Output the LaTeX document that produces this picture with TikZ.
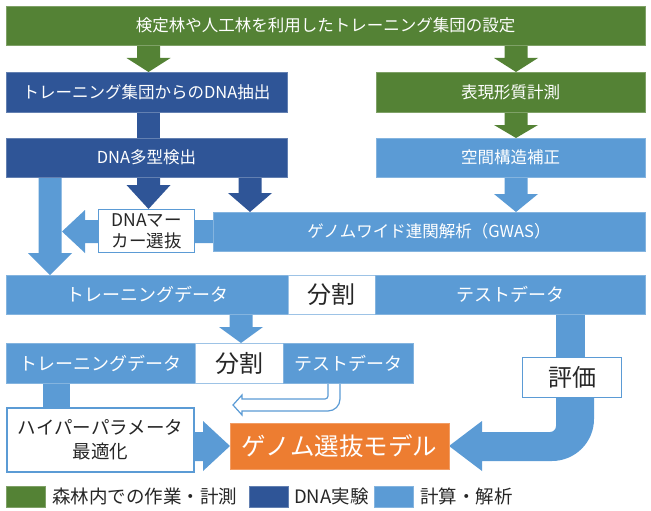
\documentclass[tikz,border=0pt]{standalone}
\usepackage{fontspec}
\setmainfont{Noto Sans CJK JP}
\definecolor{cgreen}{HTML}{548235}
\definecolor{cdblue}{HTML}{2F5597}
\definecolor{clblue}{HTML}{5B9BD5}
\definecolor{corange}{HTML}{ED7D31}
\definecolor{ctext}{HTML}{262626}
\newcommand\mybox[7]{\node[#2, minimum width={#5-#3}, minimum height={#6-#4}] (#1) at ({(#3+#5)/2},{(#4+#6)/2}) {#7};}
\newcommand\darr[5]{\fill[#1] ({#2-11.5},#3) -- ({#2+11.5},#3) -- ({#2+11.5},#4) -- ({#2+22},#4) -- (#2,#5) -- ({#2-22},#4) -- ({#2-11.5},#4) -- cycle;}
\begin{document}
\begin{tikzpicture}[x=1pt,y=-1pt,
  fbox/.style={fill=#1, draw=#1!75!white, line width=0.6pt, inner sep=0pt, text=white},
  wbox/.style={fill=white, draw=clblue, line width=#1, inner sep=0pt, text=ctext, align=center},
  fs/.style={font=\fontsize{#1}{#1}\selectfont},
  lbl/.style={font=\fontsize{18.5}{20}\selectfont, text=ctext, anchor=west, inner sep=0pt}]
\useasboundingbox (0,0) rectangle (651,511);
% connectors (drawn under boxes)
\darr{cgreen}{148.5}{44}{58}{72}
\darr{cgreen}{516}{44}{58}{72}
\darr{cgreen}{516}{111}{125}{138}
\fill[cdblue] (137,111) rectangle (160,139);
\darr{cdblue}{148.5}{176}{185}{209}
\darr{cdblue}{250}{176}{193}{212}
\darr{clblue}{516}{176}{194}{212}
\darr{clblue}{50}{176}{253}{275}
\darr{clblue}{241}{313}{327}{343}
\fill[clblue] (43,382) rectangle (70,408);
\fill[clblue] (556,313) rectangle (585,358);
% left arrow from GWAS through marker box
\fill[clblue] (214,220) -- (85,220) -- (85,210) -- (62,231.5) -- (85,253) -- (85,243) -- (214,243) -- cycle;
% right arrow into model
\fill[clblue] (195,432) -- (203,432) -- (203,421) -- (230,446) -- (203,471) -- (203,461) -- (195,461) -- cycle;
% bent arrow from evaluation to model
\fill[clblue] (556,397) -- (556,426) arc[start angle=0, end angle=90, radius=6] -- (482,432) -- (482,421) -- (449,446) -- (482,471) -- (482,461) -- (552,461) arc[start angle=90, end angle=0, radius=42] -- (594,397) -- cycle;
% outline arrow from test data
\filldraw[fill=white, draw=clblue, line width=1.2pt] (328,380) -- (328,396) arc[start angle=0, end angle=90, radius=3] -- (242,399) -- (242,395) -- (233,405) -- (242,415) -- (242,411) -- (328,411) arc[start angle=90, end angle=0, radius=12] -- (340,380);
% boxes
\mybox{top}{fbox=cgreen, fs=16.5}{6}{6}{645}{45}{検定林や人工林を利用したトレーニング集団の設定}
\mybox{ext}{fbox=cdblue, fs=16.5}{6}{72}{287}{112}{トレーニング集団からのDNA抽出}
\mybox{pheno}{fbox=cgreen, fs=16.5}{376}{72}{645}{112}{表現形質計測}
\mybox{poly}{fbox=cdblue, fs=16.5}{6}{138}{287}{177}{DNA多型検出}
\mybox{spatial}{fbox=clblue, fs=16.5}{376}{138}{645}{177}{空間構造補正}
\mybox{gwas}{fbox=clblue, fs=16.5}{213}{212}{645}{251}{ゲノムワイド連関解析（GWAS）}
\mybox{marker}{wbox=1.5pt, font=\fontsize{17.5}{21}\selectfont}{98.5}{209.5}{194.5}{252.5}{DNAマー\\カー選抜}
\mybox{train}{fbox=clblue, fs=18}{6}{275}{288}{314}{トレーニングデータ}
\mybox{split}{fbox=white, draw=clblue!60!white, text=ctext, fs=24}{288}{275}{375}{314}{分割}
\mybox{test}{fbox=clblue, fs=18}{375}{275}{645}{314}{テストデータ}
\mybox{train2}{fbox=clblue, fs=18}{6}{343}{195}{383}{トレーニングデータ}
\mybox{split2}{fbox=white, draw=clblue!60!white, text=ctext, fs=24}{195}{343}{283}{383}{分割}
\mybox{test2}{fbox=clblue, fs=18}{283}{343}{413}{383}{テストデータ}
\mybox{hyper}{wbox=2pt, font=\fontsize{18.5}{24}\selectfont}{7}{408}{194}{472}{ハイパーパラメータ\\最適化}
\mybox{model}{fbox=corange, fs=24.5}{230}{423}{449}{469}{ゲノム選抜モデル}
\mybox{eval}{wbox=1.5pt, fs=24}{522.5}{357.5}{621.5}{397.5}{評価}
% legend
\node[fbox=cgreen, minimum width=39, minimum height=21] (lg1) at (25.5,496.5) {};
\node[lbl] (lt1) at (52,496.5) {森林内での作業・計測};
\node[fbox=cdblue, minimum width=39, minimum height=21] (lg2) at (268.5,496.5) {};
\node[lbl] (lt2) at (294,496.5) {DNA実験};
\node[fbox=clblue, minimum width=39, minimum height=21] (lg3) at (393.5,496.5) {};
\node[lbl] (lt3) at (420,496.5) {計算・解析};
\end{tikzpicture}
\end{document}
